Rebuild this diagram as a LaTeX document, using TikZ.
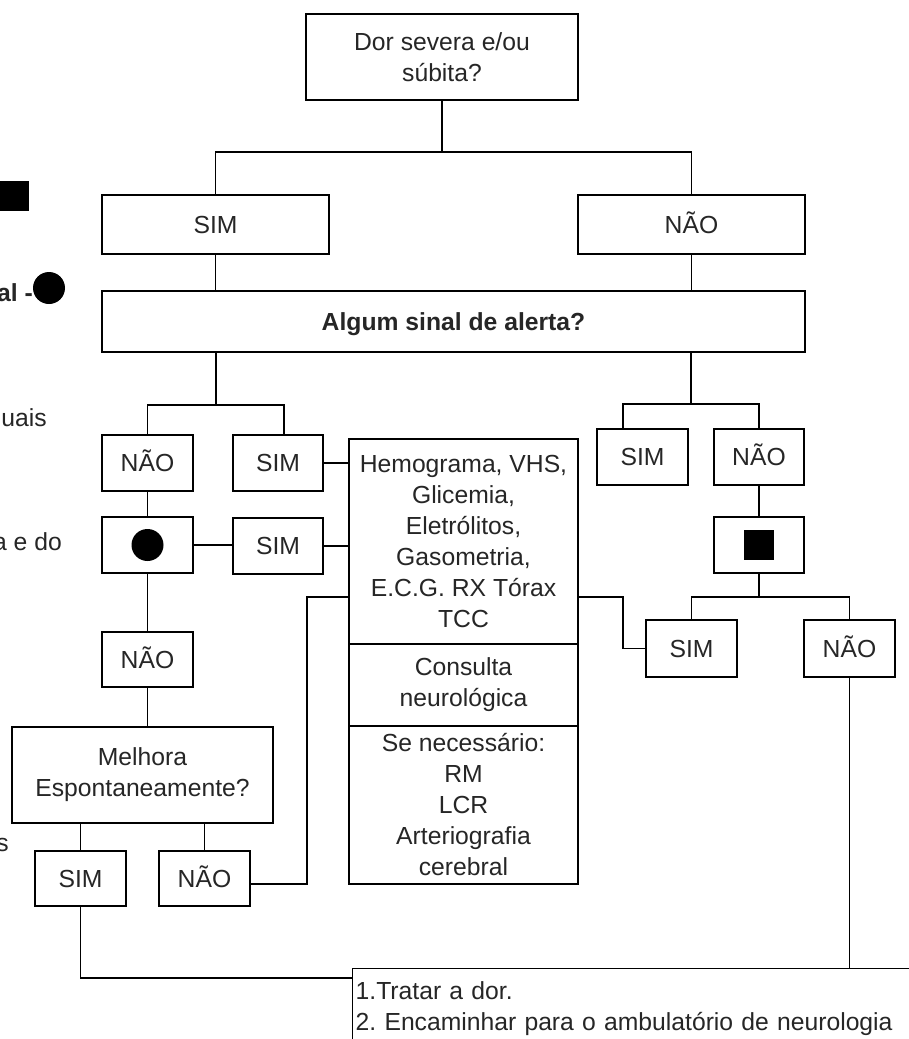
\documentclass[tikz,border=0pt]{standalone}
\usepackage{fontspec}
\setmainfont{Liberation Sans}
\usetikzlibrary{calc}
\newcommand\myfs{\fontsize{24.7pt}{31pt}\selectfont\frenchspacing}
\tikzset{
  bx/.style={draw, line width=1.4pt, text=black!85, align=center, inner sep=0pt, font=\myfs},
  sl/.style={text height=17.7pt, text depth=0pt},
  sz/.style 2 args={minimum width=#1pt, minimum height=#2pt},
  ln/.style={line width=1.4pt},
  frag/.style={text=black!85, font=\myfs, inner sep=0pt, anchor=east},
  blk/.style={fill=black, inner sep=0pt}
}
\begin{document}
\begin{tikzpicture}[x=1pt,y=-1pt]
\useasboundingbox (0,0) rectangle (909,1039);
\clip (0,0) rectangle (909,1039);
\fill[white] (0,0) rectangle (909,1039);

% left fragments (cut-off legend)
\node[blk, minimum width=29pt, minimum height=30pt] (lsq) at (14.5,196) {};
\node[frag, font=\myfs\bfseries] (lal) at (33,293) {al -};
\node[blk, circle, minimum size=32pt] (ldot) at (49,288) {};
\node[frag] (luais) at (47,418) {uais};
\node[frag] (laedo) at (62,542) {a e do};
\node[frag] (ls) at (9,845) {s};

% boxes
\node[bx, sz={272}{86}] (T) at (442,57) {Dor severa e/ou\\súbita?};
\node[bx, sl, sz={227}{59}] (S1) at (215.5,224.5) {SIM};
\node[bx, sl, sz={227}{59}] (N1) at (691.5,224.5) {NÃO};
\node[bx, sl, sz={703}{61}, font=\myfs\bfseries] (A) at (453.5,321.5) {Algum sinal de alerta?};
\node[bx, sl, sz={91}{56}] (N2) at (147.5,463) {NÃO};
\node[bx, sl, sz={90}{56}] (S2) at (278,463) {SIM};
\node[bx, sl, sz={91}{56}] (S3) at (642.5,457) {SIM};
\node[bx, sl, sz={90}{56}] (N3) at (759,457) {NÃO};
\node[bx, sz={91}{56}] (C) at (147.5,545) {};
\node[blk, circle, minimum size=32pt] (Cdot) at (C.center) {};
\node[bx, sl, sz={90}{56}] (S4) at (278,546) {SIM};
\node[bx, sz={90}{56}] (Q) at (759,545) {};
\node[blk, minimum size=30pt] (Qsq) at (Q.center) {};
\node[bx, sz={229}{205}] (X1) at (463.5,541.5) {Hemograma, VHS,\\Glicemia,\\Eletrólitos,\\Gasometria,\\E.C.G. RX Tórax\\TCC};
\node[bx, sz={229}{82}] (X2) at (463.5,685) {Consulta\\neurológica};
\node[bx, sz={229}{158}] (X3) at (463.5,805) {\raisebox{-4pt}{Se necessário:}\\\raisebox{-4pt}{RM}\\\raisebox{-4pt}{LCR}\\\raisebox{-4pt}{Arteriografia}\\\raisebox{-4pt}{cerebral}};
\node[bx, sl, sz={91}{55}] (N5) at (147.5,659.5) {NÃO};
\node[bx, sl, sz={91}{57}] (S7) at (691.5,648.5) {SIM};
\node[bx, sl, sz={91}{57}] (N7) at (849.5,648.5) {NÃO};
\node[bx, sz={261}{96}] (M) at (142.5,775) {Melhora\\Espontaneamente?};
\node[bx, sl, sz={91}{55}] (S6) at (80.5,878.5) {SIM};
\node[bx, sl, sz={91}{55}] (N6) at (204.5,878.5) {NÃO};
\node[draw, line width=1.4pt, text=black!85, font=\myfs, anchor=north west, align=left,
      text width=700pt, inner xsep=3pt, inner ysep=13pt] (F) at (352,968)
      {1.Tratar a dor.\\2. Encaminhar para o ambulatório de neurologia};

% junction coordinates
\coordinate (j0) at (442,152);
\coordinate (j1) at (216,405);
\coordinate (j2) at (691,404);
\coordinate (j3) at (307,597);
\coordinate (j4) at (623,597);
\coordinate (j5) at (759,597);

% connectors
\draw[ln] (T.south) -- (j0);
\draw[ln] (S1.north) |- (j0) -| (N1.north);
\draw[ln] (S1.south) -- (S1.south |- A.north);
\draw[ln] (N1.south) -- (N1.south |- A.north);
\draw[ln] (A.south -| j1) -- (j1);
\draw[ln] (N2.north) |- (j1) -| ($(S2.north)+(6,0)$);
\draw[ln] (A.south -| j2) -- (j2);
\draw[ln] ($(S3.north)+(-19.5,0)$) |- (j2) -| (N3.north);
\draw[ln] (S2.east) -- (S2.east -| X1.west);
\draw[ln] (N2.south) -- (C.north);
\draw[ln] (C.east) -- (C.east -| S4.west);
\draw[ln] (S4.east) -- (S4.east -| X1.west);
\draw[ln] (C.south) -- (N5.north);
\draw[ln] (N5.south) -- (N5.south |- M.north);
\draw[ln] (S6.north) -- (S6.north |- M.south);
\draw[ln] (N6.north) -- (N6.north |- M.south);
\draw[ln] ($(N6.east)+(0,5.5)$) -| (j3) -- (j3 -| X1.west);
\draw[ln] (j4 -| X1.east) -- (j4) |- (S7.west);
\draw[ln] (N3.south) -- (Q.north);
\draw[ln] (Q.south) -- (j5);
\draw[ln] (S7.north) |- (j5) -| (N7.north);
\draw[ln] (N7.south) -- (N7.south |- F.north west);
\draw[ln] (S6.south) |- ($(F.north west)+(0,10)$);
\end{tikzpicture}
\end{document}
